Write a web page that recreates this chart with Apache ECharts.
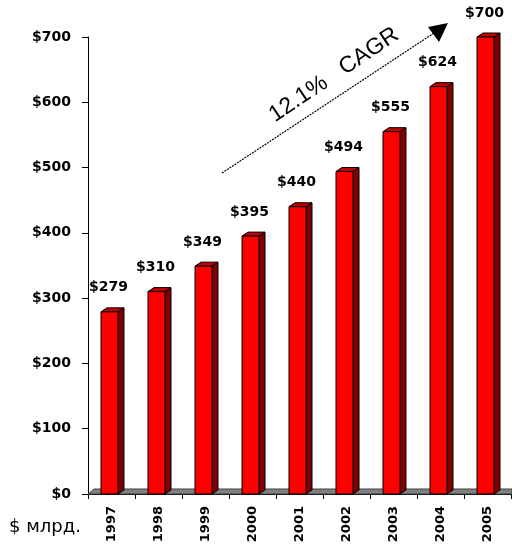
<!DOCTYPE html>
<html>
<head>
<meta charset="utf-8">
<script src="https://cdn.jsdelivr.net/npm/echarts@6/dist/echarts.min.js"></script>
<style>
  html, body { margin: 0; padding: 0; background: #fff; }
  #main { width: 512px; height: 549px; }
</style>
</head>
<body>
<div id="main"></div>
<script>
// data
var years = ["1997", "1998", "1999", "2000", "2001", "2002", "2003", "2004", "2005"];
var sales = [279, 310, 349, 395, 440, 494, 555, 624, 700];
var yTicks = { min: 0, max: 700, step: 100 };
var cagrText = "12.1%   CAGR";
var unitText = "$ млрд.";

var chart = echarts.init(document.getElementById("main"));

// 3d look of the bars
var depthX = 6, depthY = 4, halfW = 8.5, shift = -2;

function renderBar(params, api) {
  var top = api.coord([api.value(0), api.value(1)]);
  var base = api.coord([api.value(0), 0]);
  var x0 = top[0] + shift - halfW, x1 = top[0] + shift + halfW;
  var y0 = top[1], y1 = base[1];
  var edge = { stroke: "#000", lineWidth: 1 };
  return {
    type: "group",
    children: [
      {
        type: "polygon",
        shape: { points: [[x1, y0], [x1 + depthX, y0 - depthY], [x1 + depthX, y1 - depthY], [x1, y1]] },
        style: Object.assign({ fill: "#800000" }, edge)
      },
      {
        type: "polygon",
        shape: { points: [[x0, y0], [x0 + depthX, y0 - depthY], [x1 + depthX, y0 - depthY], [x1, y0]] },
        style: Object.assign({ fill: "#c00000" }, edge)
      },
      {
        type: "rect",
        shape: { x: x0, y: y0, width: x1 - x0, height: y1 - y0 },
        style: Object.assign({ fill: "#ff0000" }, edge)
      },
      {
        type: "text",
        x: top[0] - 3,
        y: y0 - 24,
        style: {
          text: "$" + api.value(1),
          fill: "#000",
          font: "bold 14px 'DejaVu Sans'",
          align: "center",
          verticalAlign: "middle"
        }
      }
    ]
  };
}

chart.setOption({
  animation: false,
  backgroundColor: "#fff",
  grid: { left: 88, right: 1, top: 37, bottom: 55 },
  xAxis: {
    type: "category",
    data: years,
    axisLine: { lineStyle: { color: "#000", width: 1 } },
    axisTick: { show: true, length: 5, lineStyle: { color: "#000" } },
    axisLabel: {
      rotate: 90,
      margin: 12,
      color: "#000",
      fontFamily: "DejaVu Sans",
      fontWeight: "bold",
      fontSize: 13
    },
    splitLine: { show: false }
  },
  yAxis: {
    type: "value",
    min: yTicks.min,
    max: yTicks.max,
    interval: yTicks.step,
    axisLine: { show: true, lineStyle: { color: "#000", width: 1 } },
    axisTick: { show: true, length: 6, lineStyle: { color: "#000" } },
    axisLabel: {
      margin: 17,
      color: "#000",
      fontFamily: "DejaVu Sans",
      fontWeight: "bold",
      fontSize: 14,
      formatter: function (v) { return "$" + v; }
    },
    splitLine: { show: false }
  },
  graphic: [
    {
      // floor of the 3d plot
      type: "polygon",
      z: 1,
      shape: { points: [[88, 494], [94, 489], [512, 489], [512, 494]] },
      style: { fill: "#808080", stroke: "#404040", lineWidth: 1 }
    },
    {
      type: "line",
      z: 5,
      shape: { x1: 222, y1: 173, x2: 434, y2: 33 },
      style: { stroke: "#000", lineWidth: 1.2, lineDash: [2, 1] }
    },
    {
      type: "polygon",
      z: 5,
      shape: { points: [[428, 27], [448, 23], [439, 42]] },
      style: { fill: "#000" }
    },
    {
      type: "text",
      z: 5,
      x: 334,
      y: 75,
      rotation: 34 * Math.PI / 180,
      style: {
        text: cagrText,
        fill: "#000",
        font: "23px 'Liberation Sans'",
        align: "center",
        verticalAlign: "middle"
      }
    },
    {
      type: "text",
      z: 5,
      x: 9,
      y: 527,
      style: {
        text: unitText,
        fill: "#000",
        font: "18px 'DejaVu Sans'",
        verticalAlign: "middle"
      }
    }
  ],
  series: [
    {
      type: "custom",
      z: 3,
      data: sales.map(function (v, i) { return [i, v]; }),
      encode: { x: 0, y: 1 },
      renderItem: renderBar
    }
  ]
});
</script>
</body>
</html>
